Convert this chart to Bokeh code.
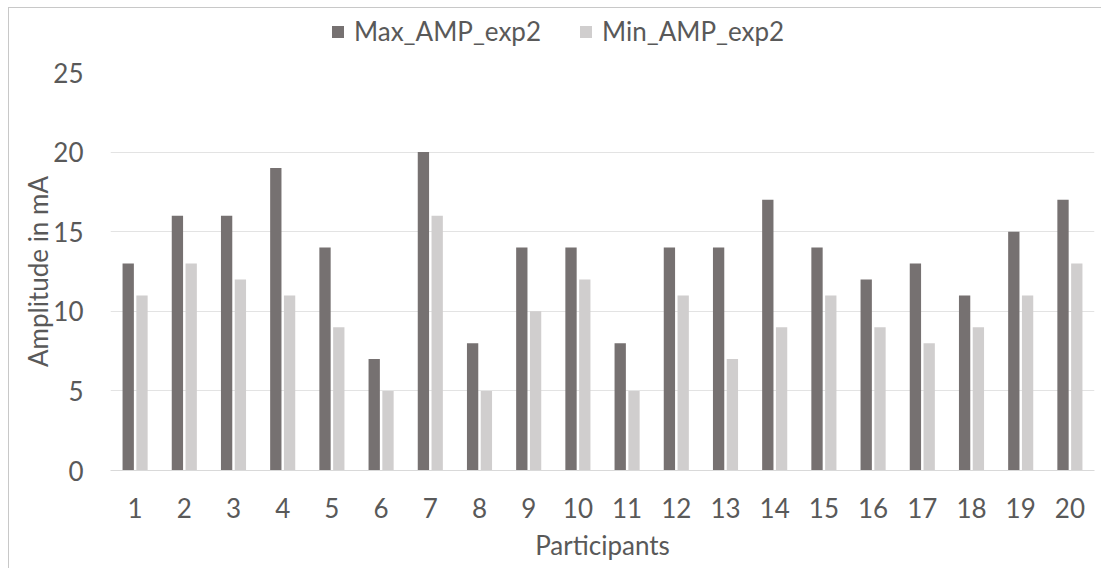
from bokeh.plotting import figure
from bokeh.layouts import column
from bokeh.models import Legend, LegendItem, FixedTicker
from bokeh.embed import file_html
from bokeh.resources import INLINE

# Stimulation amplitudes per participant (experiment 2)
participants = list(range(1, 21))
max_amp = [13, 16, 16, 19, 14, 7, 20, 8, 14, 14, 8, 14, 14, 17, 14, 12, 13, 11, 15, 17]
min_amp = [11, 13, 12, 11, 9, 5, 16, 5, 10, 12, 5, 11, 7, 9, 11, 9, 8, 9, 11, 13]
series_names = ["Max_AMP_exp2", "Min_AMP_exp2"]
y_ticks = [0, 5, 10, 15, 20, 25]

DARK = "#767171"
LIGHT = "#d0cece"
TEXT = "#595959"
GRID = "#e3e3e3"
AXIS = "#d9d9d9"
FONT = "Lato"
FS = "26px"

# --- legend strip on top ---
leg_fig = figure(
    width=1093, height=48,
    x_range=(0, 1), y_range=(0, 1),
    output_backend="svg", toolbar_location=None,
    x_axis_location=None, y_axis_location=None,
    min_border=0,
)
leg_fig.outline_line_color = None
leg_fig.xgrid.grid_line_color = None
leg_fig.ygrid.grid_line_color = None
# swatch renderers kept off-canvas; they only feed the legend keys
lr_max = leg_fig.vbar(x=[-5], top=[0], width=1, fill_color=DARK, line_color=None)
lr_min = leg_fig.vbar(x=[-5], top=[0], width=1, fill_color=LIGHT, line_color=None)
legend = Legend(
    items=[LegendItem(label=series_names[0], renderers=[lr_max]),
           LegendItem(label=series_names[1], renderers=[lr_min])],
    orientation="horizontal",
    location=(220, 9),
    padding=0, margin=0, spacing=37,
    glyph_width=15, glyph_height=15, label_standoff=9,
    border_line_color=None, background_fill_alpha=0,
    label_text_font=FONT, label_text_font_size=FS, label_text_color=TEXT,
)
leg_fig.add_layout(legend, "center")

# --- main bar chart ---
p = figure(
    width=1093, height=513,
    x_range=(0.5, 20.5), y_range=(0, 25),
    output_backend="svg", toolbar_location=None,
    min_border_left=101, min_border_right=8,
    min_border_top=16, min_border_bottom=99,
)
p.outline_line_color = None

bar_w = 0.23
off = 0.14
p.vbar(x=[x - off for x in participants], top=max_amp, width=bar_w,
       fill_color=DARK, line_color=None)
p.vbar(x=[x + off for x in participants], top=min_amp, width=bar_w,
       fill_color=LIGHT, line_color=None)

p.xaxis.ticker = FixedTicker(ticks=participants)
p.yaxis.ticker = FixedTicker(ticks=y_ticks)
p.xgrid.grid_line_color = None
p.ygrid.grid_line_color = GRID
p.ygrid.grid_line_width = 1

for ax in (p.xaxis[0], p.yaxis[0]):
    ax.major_tick_line_color = None
    ax.minor_tick_line_color = None
    ax.major_label_text_font = FONT
    ax.major_label_text_font_size = FS
    ax.major_label_text_color = TEXT
    ax.axis_label_text_font = FONT
    ax.axis_label_text_font_size = FS
    ax.axis_label_text_color = TEXT
    ax.axis_label_text_font_style = "normal"

p.xaxis.axis_line_color = AXIS
p.yaxis.axis_line_color = None
p.xaxis.axis_label = "Participants"
p.yaxis.axis_label = "Amplitude in mA"
p.xaxis.major_label_standoff = 21
p.yaxis.major_label_standoff = 21
p.xaxis.axis_label_standoff = 8
p.yaxis.axis_label_standoff = -4

layout = column(leg_fig, p, spacing=0)
layout.styles = {
    "margin-left": "8px",
    "margin-top": "7px",
    "border-left": "1px solid #c8c8c8",
    "border-top": "1px solid #c8c8c8",
}

open("out.html", "w").write(file_html(layout, INLINE))
